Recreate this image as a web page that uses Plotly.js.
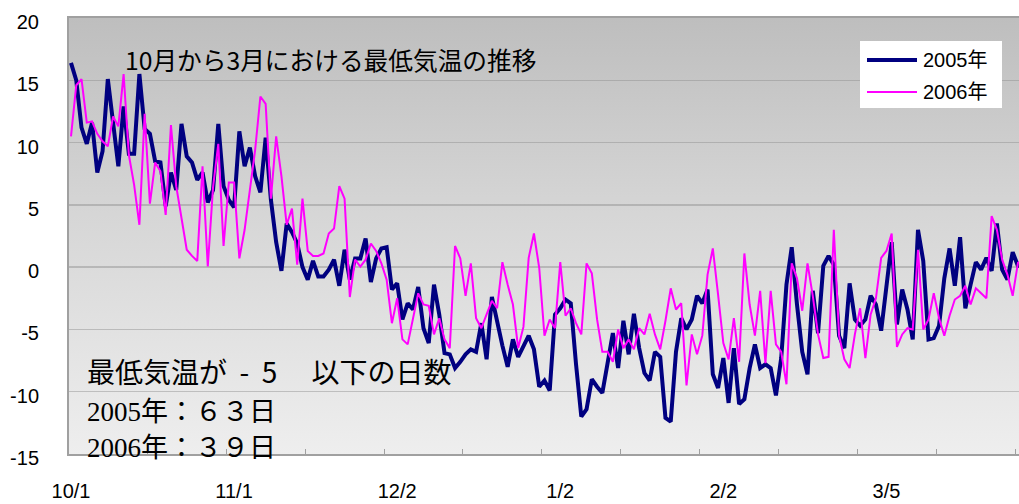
<!DOCTYPE html>
<html>
<head>
<meta charset="utf-8">
<script src="https://cdn.plot.ly/plotly-3.0.1.min.js"></script>
<style>
  html, body { margin: 0; padding: 0; background: #ffffff; }
  #wrap { position: relative; width: 1019px; height: 504px; overflow: hidden; }
  #bg { position: absolute; left: 69px; top: 18px; width: 960px; height: 436px;
        background: linear-gradient(to bottom, #bebebe 0%, #d6d6d6 45%, #eeeeee 100%); }
  #chart { position: absolute; left: 0; top: 0; width: 1019px; height: 504px; }
</style>
</head>
<body>
<div id="wrap"><div id="bg"></div><div id="chart"></div></div>
<script>
// Daily minimum temperature, Oct 1 -> Mar 31 (day index 0..181)
const temp2005 = [
  16.4, 15.0, 11.2, 9.9, 11.6, 7.6, 9.3, 15.1, 11.6, 8.1,
  12.9, 9.1, 9.1, 15.5, 11.1, 10.7, 8.5, 8.4, 4.9, 7.6,
  6.2, 11.5, 8.9, 8.4, 7.0, 7.6, 5.2, 6.2, 11.5, 6.5,
  5.4, 4.8, 10.9, 8.1, 9.6, 7.3, 6.0, 10.4, 5.4, 2.0,
  -0.3, 3.5, 2.8, 1.9, 0.0, -1.0, 0.5, -0.75, -0.75, -0.2,
  0.6, -1.5, 1.4, -1.0, 0.7, 0.7, 2.3, -1.2, 0.7, 1.5,
  1.6, -1.8, -1.3, -4.2, -2.9, -3.4, -1.6, -4.9, -6.1, -1.4,
  -3.8, -6.9, -7.0, -8.1, -7.6, -7.0, -6.6, -6.8, -4.5, -7.4,
  -2.4, -4.5, -6.3, -8.0, -5.8, -7.2, -6.3, -5.5, -6.6, -9.6,
  -9.1, -9.9, -3.8, -3.3, -2.6, -2.9, -7.8, -12.0, -11.4, -9.0,
  -9.6, -10.1, -7.7, -5.3, -8.1, -4.3, -7.0, -3.75, -6.5, -8.5,
  -9.1, -6.8, -7.2, -12.1, -12.4, -6.8, -4.1, -5.0, -4.2, -2.3,
  -2.9, -1.8, -8.6, -9.7, -7.3, -10.9, -6.5, -11.0, -10.6, -8.1,
  -6.2, -8.1, -7.8, -8.1, -10.3, -7.3, -1.4, 1.6, -3.0, -6.8,
  -8.6, -1.9, -5.3, 0.1, 0.9, 0.2, -5.5, -6.5, -1.3, -4.2,
  -4.7, -4.2, -2.3, -3.0, -5.1, -1.8, 2.0, -4.6, -1.8, -3.4,
  -5.8, 3.0, 0.5, -5.8, -5.7, -4.7, -0.9, 1.5, -1.5, 2.4,
  -3.3, -1.4, 0.4, -0.2, 0.75, -0.3, 3.5, -0.2, -1.0, 1.2,
  0.1, 0.3
];
const temp2006 = [
  10.5, 14.6, 15.1, 11.6, 11.7, 10.7, 10.1, 9.7, 12.1, 11.3,
  15.5, 9.0, 6.6, 3.4, 12.3, 5.1, 8.4, 7.7, 4.2, 11.4,
  6.5, 3.9, 1.4, 0.9, 0.5, 8.1, 0.05, 6.4, 9.9, 1.7,
  6.8, 6.8, 0.7, 3.0, 6.0, 9.4, 13.7, 13.1, 5.5, 10.5,
  7.3, 3.4, 4.7, 0.2, 5.5, 1.3, 0.9, 0.9, 1.1, 2.7,
  3.1, 6.5, 5.5, -2.4, 0.6, 0.05, 0.6, 1.9, 1.3, 0.3,
  -1.0, -4.5, -2.5, -5.8, -6.2, -4.1, -2.1, -3.0, -3.1, -5.4,
  -4.1, -5.8, -6.5, 1.7, 0.7, -2.3, 0.3, -4.1, -4.9, -3.8,
  -2.7, -3.3, 0.4, -1.4, -3.0, -6.5, -4.8, 0.75, 2.7, -0.05,
  -5.5, -4.2, -4.9, 0.4, -3.9, -3.3, -4.5, -5.4, 0.3, -0.5,
  -4.2, -6.8, -6.8, -7.6, -5.0, -6.5, -5.8, -6.6, -4.9, -5.4,
  -3.75, -5.4, -6.6, -4.3, -1.7, -3.4, -2.9, -9.5, -5.4, -7.0,
  -5.5, -0.6, 1.5, -2.2, -6.1, -7.4, -4.1, -7.6, 1.1, -3.0,
  -5.5, -1.9, -7.7, -1.9, -6.2, -6.8, -9.4, 0.3, -0.9, -3.5,
  0.3, -2.3, -5.4, -7.3, -7.2, 3.0, -5.5, -7.4, -8.1, -5.4,
  -3.3, -7.3, -3.8, -2.5, 0.75, 1.3, 2.7, -6.4, -5.4, -4.9,
  -5.0, 1.4, -5.0, -4.2, -2.1, -4.1, -5.5, -3.9, -2.6, -2.3,
  -1.5, -3.0, -1.7, -2.1, -2.5, 4.1, 3.0, 0.6, -0.6, -2.3,
  0.35, 0.6
];
const seriesNames = ['2005年', '2006年'];
const seriesColors = ['#000080', '#ff00ff'];
const seriesWidths = [4, 2];
const xTickDays = [0, 31, 62, 93, 124, 155];
const xTickLabels = ['10/1', '11/1', '12/2', '1/2', '2/2', '3/5'];
const yTickVals = [-15, -10, -5, 0, 5, 10, 15, 20];
const yTickText = ['-15', '-10', '-5', '0', '5', '10', '15', '20'];
const chartTitle = '10月から3月における最低気温の推移';
const noteLines = [
  '最低気温が\u00A0\u00A0-\u00A0\u00A05\u00A0\u3000以下の日数',
  '<span style="font-family:\'Liberation Serif\',serif">2005</span>年：６３日',
  '<span style="font-family:\'Liberation Serif\',serif">2006</span>年：３９日'
];

const dayIndex = temp2005.map((_, i) => i);

const traces = [
  { x: dayIndex, y: temp2005, name: seriesNames[0], type: 'scatter', mode: 'lines',
    line: { color: seriesColors[0], width: seriesWidths[0] } },
  { x: dayIndex, y: temp2006, name: seriesNames[1], type: 'scatter', mode: 'lines',
    line: { color: seriesColors[1], width: seriesWidths[1] } }
];

const cjk = "'Noto Sans CJK JP', 'Noto Sans', sans-serif";
const sans = "'Liberation Sans', Arial, 'Noto Sans CJK JP', sans-serif";

// pixel -> paper helpers for the plot area (left 69, top 18, width 950, height 436)
const PL = 69, PT = 18, PW = 950, PH = 436;
const px = v => (v - PL) / PW;
const py = v => (PT + PH - v) / PH;

// legend drawn as a box with line samples
const legendShapes = [
  { type: 'rect', xref: 'paper', yref: 'paper', x0: px(860), x1: px(1002), y0: py(41), y1: py(108),
    fillcolor: '#ffffff', line: { width: 0 }, layer: 'above' }
];
const legendRows = [60, 92];
seriesNames.forEach((n, i) => {
  legendShapes.push({ type: 'line', xref: 'paper', yref: 'paper', x0: px(867), x1: px(917),
    y0: py(legendRows[i]), y1: py(legendRows[i]), layer: 'above',
    line: { color: seriesColors[i], width: seriesWidths[i] } });
});
const legendTexts = seriesNames.map((n, i) => ({
  text: n, xref: 'paper', yref: 'paper', x: px(921), y: py(legendRows[i]),
  xanchor: 'left', yanchor: 'middle', showarrow: false,
  font: { family: sans, size: 20, color: '#000' }
}));

const layout = {
  width: 1019, height: 504,
  margin: { l: PL, r: 0, t: PT, b: 504 - PT - PH, pad: 0 },
  paper_bgcolor: 'rgba(0,0,0,0)',
  plot_bgcolor: 'rgba(0,0,0,0)',
  title: { text: chartTitle, xref: 'container', yref: 'container',
           x: 125 / 1019, xanchor: 'left', y: 1 - 61 / 504, yanchor: 'middle',
           font: { family: cjk, size: 24.7, color: '#000' } },
  showlegend: false,
  xaxis: { range: [-0.38, 180.2], tickmode: 'array', tickvals: xTickDays, ticktext: xTickLabels,
           ticks: '', showgrid: false, zeroline: false, showline: true, mirror: true,
           linecolor: '#a0a0a0', linewidth: 2,
           tickfont: { family: sans, size: 20, color: '#000' }, ticklabelstandoff: 18,
           minor: { tickmode: 'linear', tick0: -0.5, dtick: 15, ticks: 'inside', ticklen: 5,
                    tickcolor: '#a0a0a0', tickwidth: 1, showgrid: false } },
  yaxis: { range: [-15, 20], tickmode: 'array', tickvals: yTickVals, ticktext: yTickText,
           ticks: '', showgrid: true, gridcolor: 'rgba(140,140,140,0.45)', gridwidth: 1.5,
           zeroline: false, showline: true, linecolor: '#a0a0a0', linewidth: 2,
           tickfont: { family: sans, size: 20, color: '#000' }, ticklabelstandoff: 24,
           ticklabelshift: 4 },
  shapes: legendShapes,
  annotations: [
    { text: noteLines[0], xref: 'paper', yref: 'paper', x: px(85), y: py(371),
      xanchor: 'left', yanchor: 'middle', showarrow: false, font: { family: cjk, size: 28, color: '#000' } },
    { text: noteLines[1], xref: 'paper', yref: 'paper', x: px(85), y: py(409),
      xanchor: 'left', yanchor: 'middle', showarrow: false, font: { family: cjk, size: 27, color: '#000' } },
    { text: noteLines[2], xref: 'paper', yref: 'paper', x: px(85), y: py(445),
      xanchor: 'left', yanchor: 'middle', showarrow: false, font: { family: cjk, size: 27, color: '#000' } }
  ].concat(legendTexts)
};

Plotly.newPlot('chart', traces, layout, { displayModeBar: false, staticPlot: true });
</script>
</body>
</html>
